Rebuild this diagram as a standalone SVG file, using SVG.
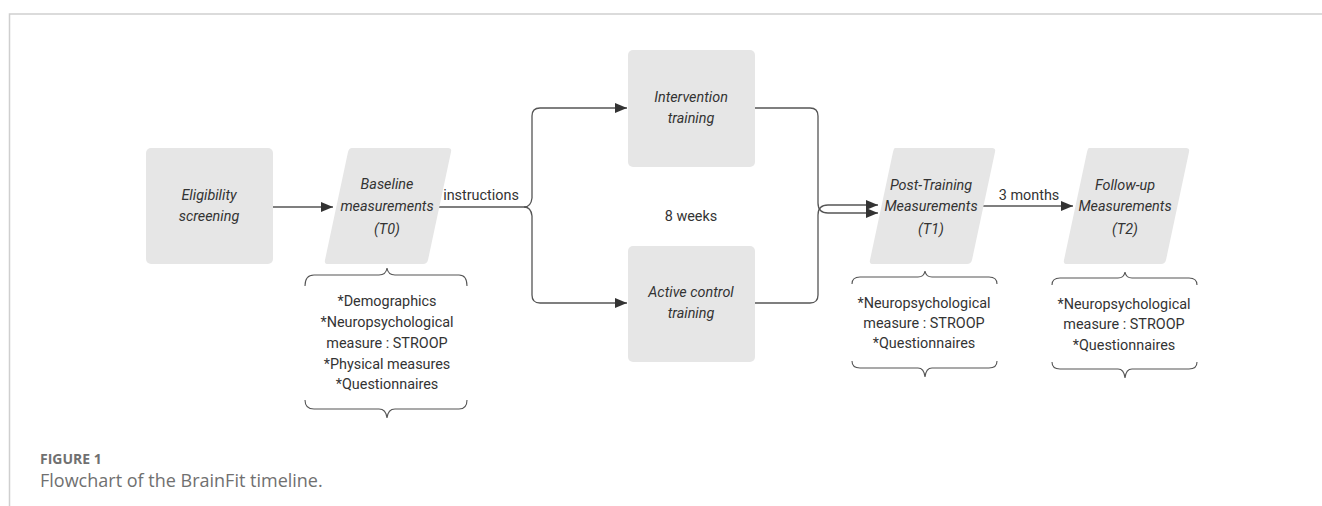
<svg xmlns="http://www.w3.org/2000/svg" width="1322" height="506" viewBox="0 0 1322 506">
<style>
.node{fill:#e6e6e6;stroke:none}
.lbl{font-family:Roboto,"Liberation Sans",Arial,sans-serif;font-size:14.4px;fill:#333;text-anchor:middle}
.it{font-style:italic}
.edge{fill:none;stroke:#555;stroke-width:1.3}
.brace{fill:none;stroke:#555;stroke-width:1.1}
.frame{stroke:#cfcfcf;stroke-width:1.5;fill:none}
.cap1{font-family:"Open Sans",sans-serif;font-size:14px;font-weight:bold;fill:#707070}
.cap2{font-family:"Open Sans",sans-serif;font-size:18px;fill:#707070}
</style>
<defs>
<marker id="ah" markerWidth="12" markerHeight="10" refX="12" refY="5" orient="auto" markerUnits="userSpaceOnUse">
<path d="M0,0 L12,5 L0,10 Z" fill="#333"/>
</marker>
</defs>
<rect width="1322" height="506" fill="#fff"/>
<path class="frame" d="M9.5,506 V14 H1322"/>

<g id="connectors">
<path class="edge" d="M273,207 H333" marker-end="url(#ah)"/>
<path class="edge" d="M437,207 H524 Q531,207 532,198 V116 Q532,108 540,108 H627" marker-end="url(#ah)"/>
<path class="edge" d="M524,207 Q531,207 532,216 V295 Q532,303 540,303 H627" marker-end="url(#ah)"/>
<path class="edge" d="M755,108 H810 Q818,108 818,116 V203 Q818,213 828,213 H878" marker-end="url(#ah)"/>
<path class="edge" d="M755,303 H810 Q818,303 818,295 V215 Q818,205 828,205 H878" marker-end="url(#ah)"/>
<path class="edge" d="M983,206 H1073" marker-end="url(#ah)"/>
</g>

<g id="eligibility">
<rect class="node" x="146" y="148" width="127" height="116" rx="5"/>
<text class="lbl it" x="209" y="200">Eligibility</text>
<text class="lbl it" x="209" y="221">screening</text>
</g>

<g id="baseline">
<path class="node" d="M352,148 H448 Q452,148 451,152 L428,260 Q427,264 423,264 H328 Q324,264 325,260 L348,152 Q349,148 352,148 Z"/>
<text class="lbl it" x="387" y="189">Baseline</text>
<text class="lbl it" x="387" y="211">measurements</text>
<text class="lbl it" x="387" y="234">(T0)</text>
</g>

<g id="instructions-label">
<text class="lbl" x="481" y="200">instructions</text>
</g>

<g id="intervention">
<rect class="node" x="628" y="50" width="127" height="117" rx="5"/>
<text class="lbl it" x="691" y="102">Intervention</text>
<text class="lbl it" x="691" y="123">training</text>
</g>

<g id="weeks-label">
<text class="lbl" x="691" y="221">8 weeks</text>
</g>

<g id="active-control">
<rect class="node" x="628" y="246" width="127" height="116" rx="5"/>
<text class="lbl it" x="691" y="297">Active control</text>
<text class="lbl it" x="691" y="318">training</text>
</g>

<g id="post-training">
<path class="node" d="M895,148 H992 Q996,148 995,152 L972,260 Q971,264 967,264 H873 Q869,264 870,260 L893,152 Q894,148 895,148 Z"/>
<text class="lbl it" x="931" y="190">Post-Training</text>
<text class="lbl it" x="931" y="211">Measurements</text>
<text class="lbl it" x="931" y="234">(T1)</text>
</g>

<g id="months-label">
<text class="lbl" x="1029" y="200">3 months</text>
</g>

<g id="follow-up">
<path class="node" d="M1089,148 H1186 Q1190,148 1189,152 L1166,260 Q1165,264 1161,264 H1067 Q1063,264 1064,260 L1087,152 Q1088,148 1089,148 Z"/>
<text class="lbl it" x="1125" y="190">Follow-up</text>
<text class="lbl it" x="1125" y="211">Measurements</text>
<text class="lbl it" x="1125" y="234">(T2)</text>
</g>

<g id="baseline-measures">
<path class="brace" d="M305,286 Q305,275 314,275 H379 Q386,275 387,268 Q388,275 395,275 H459 Q467,275 467,286"/>
<path class="brace" d="M305,400 Q305,409 314,409 H379 Q386,409 387,418 Q388,409 395,409 H459 Q467,409 467,400"/>
<text class="lbl" x="387" y="306">*Demographics</text>
<text class="lbl" x="387" y="327">*Neuropsychological</text>
<text class="lbl" x="387" y="348">measure : STROOP</text>
<text class="lbl" x="387" y="369">*Physical measures</text>
<text class="lbl" x="387" y="389">*Questionnaires</text>
</g>

<g id="post-measures">
<path class="brace" d="M852,284 Q852,277 860,277 H918 Q924,277 925,271 Q926,277 932,277 H989 Q997,277 997,284"/>
<path class="brace" d="M852,361 Q852,368 860,368 H918 Q924,368 925,377 Q926,368 932,368 H989 Q997,368 997,361"/>
<text class="lbl" x="924" y="308">*Neuropsychological</text>
<text class="lbl" x="924" y="328">measure : STROOP</text>
<text class="lbl" x="924" y="348">*Questionnaires</text>
</g>

<g id="followup-measures">
<path class="brace" d="M1052,285 Q1052,278 1060,278 H1118 Q1124,278 1125,272 Q1126,278 1132,278 H1189 Q1197,278 1197,285"/>
<path class="brace" d="M1052,362 Q1052,369 1060,369 H1118 Q1124,369 1125,378 Q1126,369 1132,369 H1189 Q1197,369 1197,362"/>
<text class="lbl" x="1124" y="309">*Neuropsychological</text>
<text class="lbl" x="1124" y="329">measure : STROOP</text>
<text class="lbl" x="1124" y="350">*Questionnaires</text>
</g>

<g id="caption">
<text class="cap1" x="40" y="464">FIGURE 1</text>
<text class="cap2" x="40" y="487">Flowchart of the BrainFit timeline.</text>
</g>
</svg>
